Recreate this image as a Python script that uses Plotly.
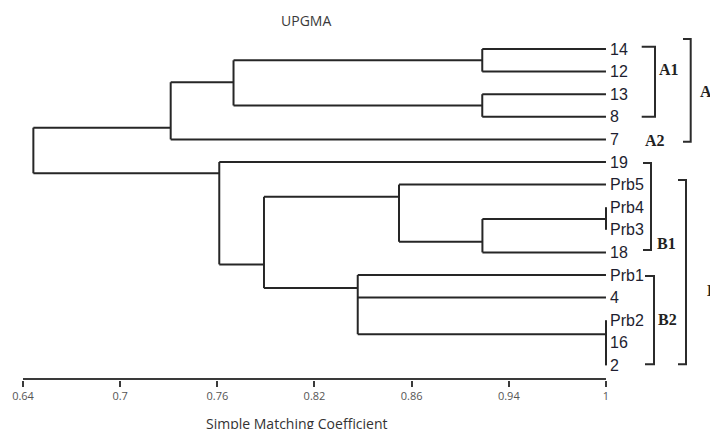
import plotly.graph_objects as go

# ---------------- data ----------------
leaves = ["14", "12", "13", "8", "7", "19", "Prb5", "Prb4", "Prb3", "18",
          "Prb1", "4", "Prb2", "16", "2"]
# merges: (name, children, similarity level)
merge_names = ["m1", "m2", "m3", "m4", "m5", "m6", "m7", "m8", "m9", "m10", "m11", "m12"]
merge_children = [["14", "12"], ["13", "8"], ["m1", "m2"], ["m3", "7"],
                  ["Prb4", "Prb3"], ["m5", "18"], ["Prb5", "m6"],
                  ["Prb2", "16", "2"], ["Prb1", "4", "m8"], ["m7", "m9"],
                  ["19", "m10"], ["m4", "m11"]]
merge_levels = [0.9236, 0.9236, 0.7700, 0.7312, 1.0, 0.9237, 0.8722,
                1.0, 0.8467, 0.7888, 0.7612, 0.6464]

tick_vals = [0.64, 0.70, 0.76, 0.82, 0.88, 0.94, 1.00]
tick_text = ["0.64", "0.7", "0.76", "0.82", "0.86", "0.94", "1"]

groups = ["A1", "A2", "A", "B1", "B2", "B"]

# ---------------- layout helpers (positions, not data) ----------------
# connection row of each merge (in leaf-row units), as drawn in the original
merge_conn_y = [0.5, 2.5, 1.47, 3.48, 7.52, 8.53, 6.54, 12.62, 10.58, 9.53, 5.5, None]

PX_PER_UNIT = 1619.4
X0 = 0.64 - 23 / PX_PER_UNIT
X1 = X0 + 710 / PX_PER_UNIT
ROW0, ROWH = 49.0, 22.6
PLOT_H = 380
Y_TOP = -ROW0 / ROWH
Y_BOT = (PLOT_H - ROW0) / ROWH

def px2x(px):
    return X0 + px / PX_PER_UNIT

def py2u(py):
    return (py - ROW0) / ROWH

LINE = dict(color="#262626", width=2)

fig = go.Figure()

# positions of leaves
pos_x = {l: 1.0 for l in leaves}
pos_y = {l: float(i) for i, l in enumerate(leaves)}

xs, ys = [], []
for name, ch, lvl, cy in zip(merge_names, merge_children, merge_levels, merge_conn_y):
    cys = [pos_y[c] for c in ch]
    xs += [lvl, lvl, None]
    ys += [min(cys), max(cys), None]
    for c in ch:
        if pos_x[c] != lvl:
            xs += [lvl, pos_x[c], None]
            ys += [pos_y[c], pos_y[c], None]
    pos_x[name] = lvl
    pos_y[name] = cy if cy is not None else (min(cys) + max(cys)) / 2

fig.add_trace(go.Scatter(x=xs, y=ys, mode="lines", line=LINE,
                         hoverinfo="skip", showlegend=False))

# axis baseline from 0.64 to 1.0
fig.add_trace(go.Scatter(x=[tick_vals[0], tick_vals[-1]], y=[py2u(379), py2u(379)],
                         mode="lines", line=dict(color="#3a3a3a", width=2),
                         hoverinfo="skip", showlegend=False))

# brackets (px coordinates from the picture)
brackets = {
    "A1": (641.7, 655.0, 46.7, 116.7),
    "A": (683.0, 690.7, 39.0, 141.7),
    "B1": (643.0, 651.0, 163.0, 250.0),
    "B": (678.0, 686.0, 180.0, 364.3),
    "B2": (645.0, 654.0, 276.0, 364.3),
}
bx, by = [], []
for g, (xa, xb, ya, yb) in brackets.items():
    bx += [px2x(xa), px2x(xb), px2x(xb), px2x(xa), None]
    by += [py2u(ya), py2u(ya), py2u(yb), py2u(yb), None]
fig.add_trace(go.Scatter(x=bx, y=by, mode="lines",
                         line=dict(color="#2b2b2b", width=2),
                         hoverinfo="skip", showlegend=False))

annotations = []
for l in leaves:
    annotations.append(dict(x=1.0, y=pos_y[l], xref="x", yref="y", text=l,
                            showarrow=False, xanchor="left", yanchor="middle",
                            xshift=2,
                            font=dict(family="Liberation Sans, Arial", size=16,
                                      color="#1e1e30")))

group_pos = {
    "A1": (657, 69), "A2": (643, 140.5), "A": (698, 91.7),
    "B1": (655, 243.3), "B2": (656, 319.3), "B": (705, 290),
}
for g in groups:
    gx, gy = group_pos[g]
    annotations.append(dict(x=px2x(gx), y=py2u(gy), xref="x", yref="y", text="<b>%s</b>" % g,
                            showarrow=False, xanchor="left", yanchor="middle",
                            font=dict(family="Liberation Serif, Times New Roman", size=16,
                                      color="#222")))

annotations.append(dict(x=px2x(306), y=py2u(20), xref="x", yref="y", text="UPGMA",
                        showarrow=False, xanchor="center", yanchor="middle",
                        font=dict(family="Open Sans", size=14, color="#3a3a3a")))
annotations.append(dict(x=px2x(297), y=-(423 - PLOT_H) / PLOT_H, xref="x", yref="paper",
                        text="Simple Matching Coefficient",
                        showarrow=False, xanchor="center", yanchor="middle",
                        font=dict(family="Open Sans", size=14, color="#333")))

fig.update_layout(
    width=710, height=429,
    margin=dict(l=0, r=0, t=0, b=429 - PLOT_H, pad=0),
    paper_bgcolor="white", plot_bgcolor="white",
    xaxis=dict(range=[X0, X1], tickvals=tick_vals, ticktext=tick_text,
               showgrid=False, zeroline=False, showline=False,
               ticks="outside", ticklen=6, tickwidth=2, tickcolor="#3a3a3a",
               tickfont=dict(family="Open Sans", size=11, color="#555"),
               fixedrange=True),
    yaxis=dict(range=[Y_BOT, Y_TOP], visible=False, fixedrange=True),
    annotations=annotations,
    showlegend=False,
)

fig.write_html("out.html", config={"displayModeBar": False},
               post_script="document.body.style.margin='0';document.body.style.overflow='hidden';")
